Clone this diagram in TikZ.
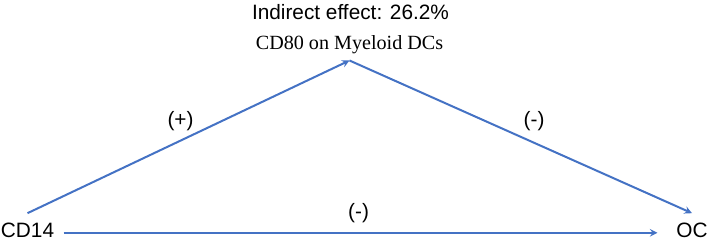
\documentclass[tikz,border=0pt]{standalone}
\usepackage{fontspec}
\setmainfont{Liberation Serif}
\setsansfont{Liberation Sans}
\usepackage{tikz}
\usetikzlibrary{arrows,positioning}
\definecolor{pathblue}{HTML}{4472C4}

\begin{document}
\begin{tikzpicture}[x=0.75pt, y=-0.75pt,
    var/.style={inner sep=7pt, font=\sffamily\fontsize{15.6}{18}\selectfont},
    med/.style={inner sep=4.5pt, font=\fontsize{15.1}{18}\selectfont},
    lbl/.style={inner sep=0pt, font=\sffamily\fontsize{15.6}{18}\selectfont},
    line/.style={draw=pathblue, line width=1.5pt, -stealth}
]
\useasboundingbox (0,0) rectangle (709,242);

\node[var, anchor=base] (cd14) at (27.5,237.3) {CD14};
\node[var, anchor=base] (oc) at (692,237.3) {OC};
\node[med, anchor=south] (cd80) at (349.5,60.5) {CD80 on Myeloid DCs};
\node[lbl, anchor=base] (effect) at (350.5,20) {Indirect effect: 26.2\%};

\draw[line] (cd14.north) -- node[lbl, above=4pt, xshift=-6pt]{(+)} (cd80.south);
\draw[line] (cd80.south) -- node[lbl, above=4pt, xshift=10pt]{(-)} (oc.north);
\draw[line, shorten >=7pt] ([yshift=-2pt]cd14.east) -- node[lbl, above=7pt, xshift=-5pt]{(-)} ([yshift=-2pt]oc.west);

\end{tikzpicture}
\end{document}
